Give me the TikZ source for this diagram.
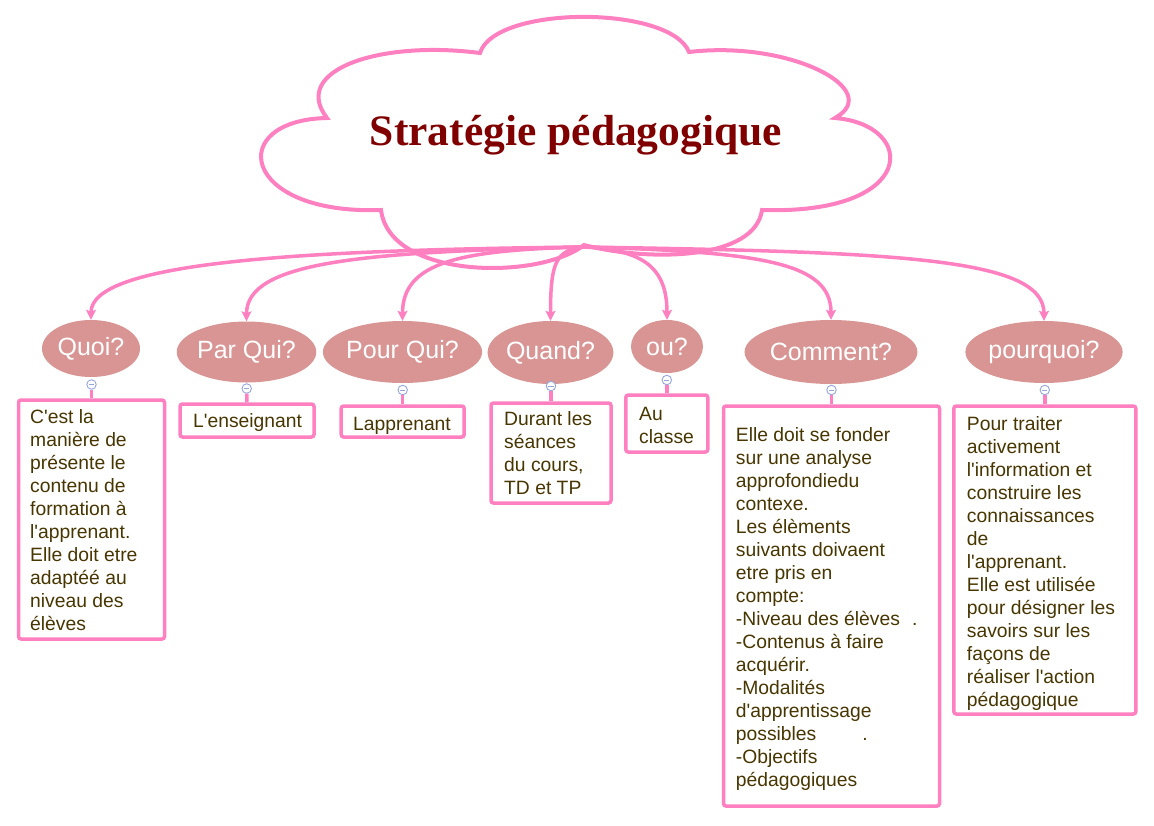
\documentclass[tikz,border=0pt]{standalone}
\usepackage{fontspec}
\setmainfont{Liberation Sans}
\newfontfamily\titlefont{Liberation Serif}
\usetikzlibrary{shapes.geometric,arrows.meta}
\definecolor{pinkline}{RGB}{255,128,192}
\definecolor{rosefill}{RGB}{217,149,148}
\definecolor{txt}{RGB}{72,54,0}
\definecolor{titlered}{RGB}{128,0,0}
\definecolor{minusc}{RGB}{150,165,220}
\newcommand{\mylines}[1]{\begin{tabular}[t]{@{}l@{}}#1\end{tabular}}
\newcommand{\q}{\textquotesingle}
\begin{document}
\begin{tikzpicture}[x=1pt,y=-1pt,
 cloudline/.style={draw=pinkline, line width=4pt, fill=white},
 qnode/.style={ellipse, fill=rosefill, inner sep=0, text=white, font=\fontsize{25}{30}\selectfont},
 arr/.style={draw=pinkline, line width=3.5pt, -{Stealth[length=10pt,width=10pt,inset=2pt]}},
 boxnode/.style={draw=pinkline, line width=3.5pt, rounded corners=2.5pt, fill=white, inner sep=0},
 btxt/.style={anchor=base west, inner sep=0, text=txt, font=\fontsize{19.3}{23}\selectfont},
 tog/.style={circle, draw=minusc, fill=white, line width=0.9pt, minimum size=9.5pt, inner sep=0,
   path picture={\draw[minusc, line width=1pt] ([xshift=-2.6pt]path picture bounding box.center) -- ([xshift=2.6pt]path picture bounding box.center);}},
 link/.style={draw=pinkline, line width=3.5pt}
]
\useasboundingbox[fill=white] (0,0) rectangle (1154,825);

% cloud
\draw[cloudline] (480,53) .. controls (495,5) and (670,5) .. (689,52)
 .. controls (790,40) and (885,90) .. (835,118)
 .. controls (918,125) and (918,215) .. (762,210)
 .. controls (755,260) and (650,262) .. (584,245)
 .. controls (540,280) and (390,280) .. (381,210)
 .. controls (240,215) and (225,120) .. (327,118)
 .. controls (290,70) and (380,40) .. (480,53) -- cycle;
\node[inner sep=0, anchor=base, text=titlered, font=\titlefont\bfseries\fontsize{43.5}{50}\selectfont] (title) at (576,145) {Stratégie pédagogique};
\coordinate (src) at (584,247);

% question ellipses
\node[qnode, minimum width=98pt, minimum height=57pt] (quoi) at (91,348.5) {Quoi?};
\node[qnode, minimum width=135pt, minimum height=61pt] (parqui) at (246.5,352) {Par Qui?};
\node[qnode, minimum width=151pt, minimum height=62pt] (pourqui) at (402.5,352) {Pour Qui?};
\node[qnode, minimum width=123pt, minimum height=63pt] (quand) at (550.5,352.5) {Quand?};
\node[qnode, minimum width=72pt, minimum height=53pt] (ou) at (667,346.5) {ou?};
\node[qnode, minimum width=162pt, minimum height=64pt] (comment) at (831,352) {Comment?};
\node[qnode, minimum width=151pt, minimum height=62pt] (pourquoi) at (1044,352) {pourquoi?};

% arrows
\draw[arr] (src) .. controls (300,250) and (91,262) .. (quoi.north);
\draw[arr] (src) .. controls (360,252) and (246.5,262) .. (parqui.north);
\draw[arr] (src) .. controls (460,250) and (402.5,262) .. (pourqui.north);
\draw[arr] (src) .. controls (556,250) and (550.5,262) .. (quand.north);
\draw[arr] (src) .. controls (640,250) and (667,265) .. (ou.north);
\draw[arr] (src) .. controls (760,252) and (831,262) .. (comment.north);
\draw[arr] (src) .. controls (900,252) and (1044,258) .. (pourquoi.north);

% toggles
\node[tog] (tquoi) at (91.5,384.5) {};
\node[tog] (tparqui) at (246.7,388.5) {};
\node[tog] (tpourqui) at (402.7,390) {};
\node[tog] (tquand) at (551,386) {};
\node[tog] (tou) at (666.8,380) {};
\node[tog] (tcomment) at (831.5,390) {};
\node[tog] (tpourquoi) at (1044.8,390) {};

% boxes
\node[boxnode, minimum width=146pt, minimum height=239pt] (bquoi) at (91.5,519.5) {};
\node[boxnode, minimum width=134pt, minimum height=33pt] (bparqui) at (247,420.5) {};
\node[boxnode, minimum width=123pt, minimum height=31pt] (bpourqui) at (402.7,421.5) {};
\node[boxnode, minimum width=120pt, minimum height=100pt] (bquand) at (551,453) {};
\node[boxnode, minimum width=82pt, minimum height=57pt] (bou) at (666.8,423.5) {};
\node[boxnode, minimum width=216pt, minimum height=400pt] (bcomment) at (831.5,606) {};
\node[boxnode, minimum width=182pt, minimum height=308pt] (bpourquoi) at (1044.8,560) {};

\draw[link] (tquoi) -- (bquoi.north);
\draw[link] (tparqui) -- (bparqui.north);
\draw[link] (tpourqui) -- (bpourqui.north);
\draw[link] (tquand) -- (bquand.north);
\draw[link] (tou) -- (bou.north);
\draw[link] (tcomment) -- (bcomment.north);
\draw[link] (tpourquoi) -- (bpourquoi.north);

% box texts
\node[btxt] (xquoi) at (30,423.3) {\mylines{C\q est la\\manière de\\présente le\\contenu de\\formation à\\l\q apprenant.\\Elle doit etre\\adaptéé au\\niveau des\\élèves}};
\node[btxt] (xparqui) at (193,427) {L\q enseignant};
\node[btxt] (xpourqui) at (353,430) {Lapprenant};
\node[btxt] (xquand) at (504,425) {\mylines{Durant les\\séances\\du cours,\\TD et TP}};
\node[btxt] (xou) at (639,420) {\mylines{Au\\classe}};
\node[btxt] (xcomment) at (735.7,441.7) {\mylines{Elle doit se fonder\\sur une analyse\\approfondiedu\\contexe.\\Les élèments\\suivants doivaent\\etre pris en\\compte:\\-Niveau des élèves\hspace{12pt}.\\-Contenus à faire\\acquérir.\\-Modalités\\d\q apprentissage\\possibles\hspace{46pt}.\\-Objectifs\\pédagogiques}};
\node[btxt] (xpourquoi) at (966.7,430) {\mylines{Pour traiter\\activement\\l\q information et\\construire les\\connaissances\\de\\l\q apprenant.\\Elle est utilisée\\pour désigner les\\savoirs sur les\\façons de\\réaliser l\q action\\pédagogique}};
\end{tikzpicture}
\end{document}
